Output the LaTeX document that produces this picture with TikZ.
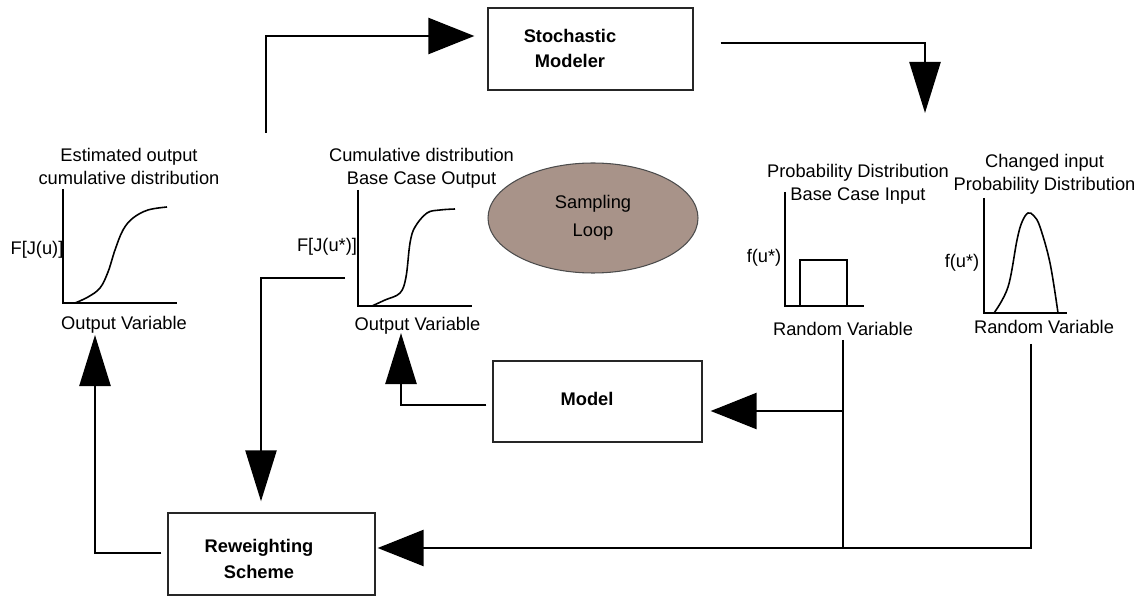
\documentclass[tikz,border=0pt]{standalone}
\usepackage{fontspec}
\setmainfont{Liberation Sans}
\usepackage{xcolor}
\usetikzlibrary{positioning, arrows.meta, shapes.geometric, calc}
\definecolor{loopfill}{RGB}{168,147,137}

\begin{document}
\begin{tikzpicture}[
        hflow/.style={-{Triangle[length=0.92cm, width=0.72cm]}, line width=1.4pt},
        vflow/.style={-{Triangle[length=1.02cm, width=0.62cm]}, line width=1.4pt},
        block/.style={rectangle, draw=black!85, line width=0.75pt, minimum width=4.14cm, minimum height=1.64cm},
        boxtext/.style={font=\fontsize{10.4}{14.7}\selectfont\bfseries, align=center, inner sep=0pt},
        txt/.style={font=\fontsize{10.4}{13}\selectfont, align=center, inner sep=0pt},
        axis/.style={line width=0.9pt},
        curve/.style={line width=0.9pt}
    ]
        \useasboundingbox (0,0) rectangle (22.9,11.92);

        \node[block, minimum width=4.1cm] (modeler) at (11.81, 10.94) {};
        \node[boxtext] (modelerlbl) at (11.40, 10.95) {Stochastic\\Modeler};
        \node[block, minimum width=4.18cm, minimum height=1.62cm] (model) at (11.95, 3.89) {};
        \node[boxtext] (modellbl) at (11.74, 3.94) {Model};
        \node[block] (reweigh) at (5.43, 0.84) {};
        \node[boxtext] (reweighlbl) at (5.18, 0.74) {Reweighting\\Scheme};

        \node[ellipse, draw=black!70, line width=0.6pt, fill=loopfill,
              minimum width=4.2cm, minimum height=2.2cm,
              font=\fontsize{10.4}{15.9}\selectfont, align=center] (loop) at (11.86, 7.56) {Sampling\\Loop};

        \node[txt] (titleA) at (2.58, 8.59)  {Estimated output\\cumulative distribution};
        \node[txt] (titleB) at (8.43, 8.56)  {Cumulative distribution\\Base Case Output};
        \node[txt] (titleC) at (17.16, 8.24) {Probability Distribution\\Base Case Input};
        \node[txt] (titleD) at (20.89, 8.44) {Changed input\\Probability Distribution};

        \node[txt] (yA) at (0.74, 6.92)  {F[J(u)]};
        \node[txt] (yB) at (6.54, 6.98)  {F[J(u*)]};
        \node[txt] (yC) at (15.28, 6.76) {f(u*)};
        \node[txt] (yD) at (19.24, 6.66) {f(u*)};

        \node[txt] (xA) at (2.48, 5.43)  {Output Variable};
        \node[txt] (xB) at (8.35, 5.40)  {Output Variable};
        \node[txt] (xC) at (16.86, 5.34) {Random Variable};
        \node[txt] (xD) at (20.88, 5.38) {Random Variable};

        \draw[axis] (1.26, 8.14) -- (1.26, 5.86) -- (3.54, 5.86);
        \draw[curve] plot[smooth, tension=0.6] coordinates {(1.50,5.86) (1.76,5.98) (2.00,6.16) (2.16,6.48) (2.30,6.92) (2.46,7.32) (2.66,7.56) (2.96,7.72) (3.34,7.78)};

        \draw[axis] (7.16, 8.12) -- (7.16, 5.80) -- (9.44, 5.80);
        \draw[curve] plot[smooth, tension=0.6] coordinates {(7.44,5.80) (7.70,5.92) (8.00,6.06) (8.12,6.38) (8.20,7.06) (8.30,7.38) (8.54,7.66) (8.80,7.72) (9.10,7.74)};

        \draw[axis] (15.70, 8.08) -- (15.70, 5.80) -- (17.28, 5.80);
        \draw[curve] (16.00, 5.80) -- (16.00, 6.72) -- (16.94, 6.72) -- (16.94, 5.80);

        \draw[axis] (19.68, 7.96) -- (19.68, 5.66) -- (21.34, 5.66);
        \draw[curve] plot[smooth, tension=0.6] coordinates {(19.88,5.66) (20.16,6.18) (20.34,7.12) (20.44,7.48) (20.56,7.66) (20.68,7.60) (20.80,7.38) (21.00,6.66) (21.16,5.66)};

        \coordinate (upstart) at (5.32, 9.26);
        \coordinate (dtip)    at (18.50, 9.66);
        \coordinate (cdrop)   at (16.86, 5.12);
        \coordinate (cjoin)   at (16.86, 0.96);
        \coordinate (cbranch) at (16.86, 3.70);
        \coordinate (ddrop)   at (20.62, 5.04);
        \coordinate (btip)    at (8.02, 5.26);
        \coordinate (bstart)  at (6.90, 6.36);
        \coordinate (atip)    at (1.90, 5.22);

        \draw[hflow] (upstart) |- ($(modeler.west)+(-0.26,0.26)$);
        \draw[vflow] ($(modeler.east)+(0.54,0.12)$) -| (dtip);
        \draw[line width=1.4pt] (cdrop) -- (cjoin);
        \draw[hflow] (cbranch) -- ($(model.east |- cbranch)+(0.16,0)$);
        \draw[hflow] (ddrop) |- ($(reweigh.east)+(0.04,0.12)$);
        \draw[vflow] ($(model.west)+(-0.12,-0.07)$) -| (btip);
        \draw[vflow] (bstart) -| ($(reweigh.north)+(-0.21,0.22)$);
        \draw[vflow] ($(reweigh.west)+(-0.12,0.02)$) -| (atip);
    \end{tikzpicture}
\end{document}
